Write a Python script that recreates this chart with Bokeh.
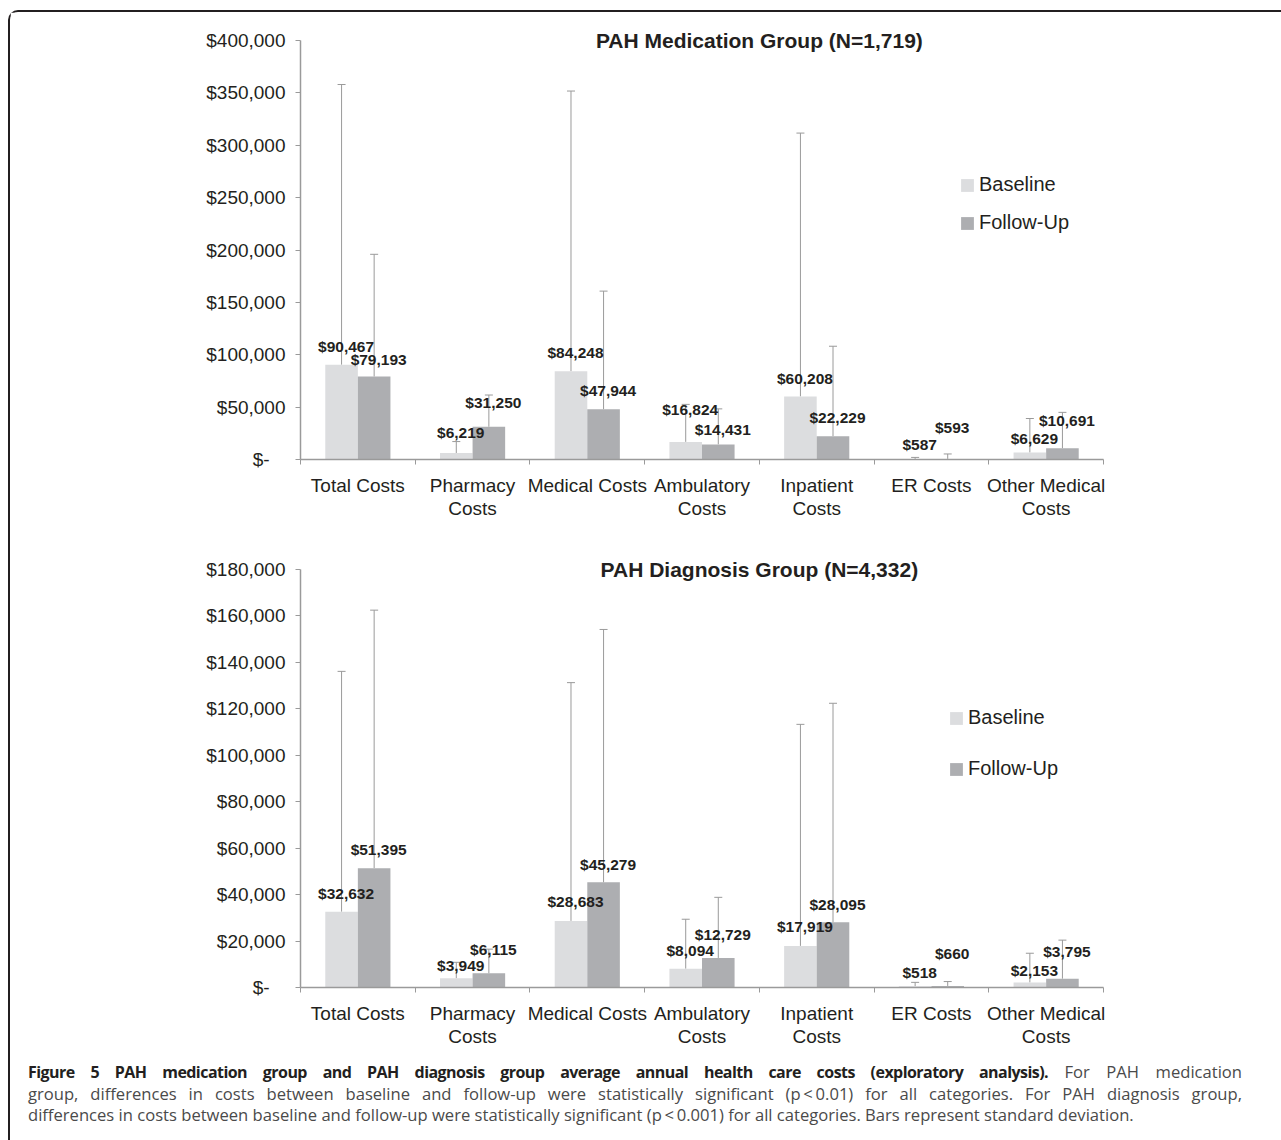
import numpy as np
from bokeh.plotting import figure
from bokeh.models import (ColumnDataSource, Range1d, FixedTicker, NumeralTickFormatter,
                          Whisker, TeeHead, LabelSet, Label, Legend, LegendItem, Div)
from bokeh.layouts import column
from bokeh.core.properties import value
from bokeh.embed import file_html
from bokeh.resources import INLINE

# ---------------- data ----------------
categories = ["Total Costs", "Pharmacy\nCosts", "Medical Costs", "Ambulatory\nCosts",
              "Inpatient\nCosts", "ER Costs", "Other Medical\nCosts"]
series_names = ["Baseline", "Follow-Up"]

med_title = "PAH Medication Group (N=1,719)"
med_baseline = [90467, 6219, 84248, 16824, 60208, 587, 6629]
med_followup = [79193, 31250, 47944, 14431, 22229, 593, 10691]
med_baseline_sd = [267500, 10900, 267500, 35800, 251400, 1400, 32500]
med_followup_sd = [116700, 30300, 112800, 33900, 85900, 4700, 34300]
med_y_ticks = [0, 50000, 100000, 150000, 200000, 250000, 300000, 350000, 400000]

dx_title = "PAH Diagnosis Group (N=4,332)"
dx_baseline = [32632, 3949, 28683, 8094, 17919, 518, 2153]
dx_followup = [51395, 6115, 45279, 12729, 28095, 660, 3795]
dx_baseline_sd = [103500, 6900, 102600, 21300, 95400, 1700, 12600]
dx_followup_sd = [111100, 10400, 108900, 26100, 94300, 1900, 16600]
dx_y_ticks = [0, 20000, 40000, 60000, 80000, 100000, 120000, 140000, 160000, 180000]

caption_bold = ("Figure 5 PAH medication group and PAH diagnosis group average annual "
                "health care costs (exploratory analysis).")
caption_lines = [
    " For PAH medication",
    "group, differences in costs between baseline and follow-up were statistically "
    "significant (p\u2009<\u20090.01) for all categories. For PAH diagnosis group,",
    "differences in costs between baseline and follow-up were statistically significant "
    "(p\u2009<\u20090.001) for all categories. Bars represent standard deviation.",
]

# ---------------- style (label offsets in screen px) ----------------
med_label_dy_base = [18, 20, 19, 32, 18, 14, 14]
med_label_dy_fu = [17, 24, 19, 15, 19, 31, 28]
dx_label_dy_base = [18, 13, 19, 18, 19, 14, 12]
dx_label_dy_fu = [19, 24, 18, 23, 18, 32, 27]

FONT = "Liberation Sans"
TXT = "#231f20"
C_BASE = "#dcdddf"
C_FU = "#adaeb1"
ERR = "#9a9a9a"
AXIS = "#9a9a9a"
BAR_W = 0.284
SHIFT = 0.142
HEAD = 20  # extra px above the top tick, room for the in-plot title


def build(title, base, fu, base_sd, fu_sd, y_ticks, frame_h, b_top, b_bottom,
          dy_base, dy_fu, leg_xy, leg_spacing):
    n = len(categories)
    idx = np.arange(n)
    y_max = y_ticks[-1]
    y_end = y_max + y_max * HEAD / frame_h
    p = figure(frame_width=803, frame_height=frame_h + HEAD, min_border_left=290,
               min_border_right=177, min_border_top=b_top - HEAD, min_border_bottom=b_bottom,
               x_range=Range1d(0, n), y_range=Range1d(0, y_end),
               output_backend="svg", toolbar_location=None, title=None)
    p.outline_line_color = None
    p.xgrid.visible = False
    p.ygrid.visible = False

    renderers = []
    for vals, sds, shift, color, dys in ((base, base_sd, -SHIFT, C_BASE, dy_base),
                                          (fu, fu_sd, SHIFT, C_FU, dy_fu)):
        v = np.array(vals)
        src = ColumnDataSource(dict(
            x=idx + 0.5 + shift, top=v, upper=v + np.array(sds),
            label=["${:,}".format(int(a)) for a in vals], dy=dys))
        r = p.vbar(x="x", top="top", bottom=0, width=BAR_W, source=src,
                   fill_color=color, line_color=None)
        renderers.append((r, src))

    for r, src in renderers:
        p.add_layout(Whisker(source=src, base="x", lower="top", upper="upper",
                             dimension="height", line_color=ERR, line_width=1,
                             upper_head=TeeHead(size=8, line_color=ERR, line_width=1),
                             lower_head=None))
    for r, src in renderers:
        p.add_layout(LabelSet(source=src, x="x", y="top", text="label",
                              x_offset=4.5, y_offset="dy",
                              text_align="center", text_baseline="middle",
                              text_font=value(FONT), text_font_style="bold",
                              text_font_size="15.5px", text_color=TXT))

    p.add_layout(Label(x=4.0, y=y_max, text=title, text_align="center",
                       text_baseline="middle", text_font=FONT,
                       text_font_style="bold", text_font_size="21px", text_color=TXT))

    legend = Legend(items=[LegendItem(label=series_names[0], renderers=[renderers[0][0]]),
                           LegendItem(label=series_names[1], renderers=[renderers[1][0]])],
                    location=leg_xy, orientation="vertical",
                    glyph_width=16, glyph_height=16, label_standoff=4,
                    spacing=leg_spacing, padding=0, margin=0,
                    border_line_color=None, background_fill_alpha=0,
                    label_text_font=FONT, label_text_font_size="20px",
                    label_text_color=TXT)
    p.add_layout(legend)

    # axes
    p.yaxis.ticker = FixedTicker(ticks=y_ticks)
    p.yaxis.bounds = (0, y_max)
    p.yaxis.formatter = NumeralTickFormatter(format="$0,0")
    p.yaxis.major_label_overrides = {0: "$-\u00a0\u00a0\u00a0"}
    p.yaxis.major_tick_out = 5
    p.yaxis.major_tick_in = 0
    p.yaxis.minor_tick_line_color = None
    p.yaxis.major_label_standoff = 10

    p.xaxis.ticker = FixedTicker(ticks=[float(i) + 0.5 for i in idx],
                                 minor_ticks=[float(i) for i in range(n + 1)])
    p.xaxis.major_label_overrides = {float(i) + 0.5: categories[i] for i in idx}
    p.xaxis.major_tick_out = 0
    p.xaxis.major_tick_in = 0
    p.xaxis.minor_tick_line_color = AXIS
    p.xaxis.minor_tick_out = 5
    p.xaxis.minor_tick_in = 0
    p.xaxis.major_label_standoff = 10
    p.xaxis.major_label_text_line_height = 1.1

    for ax in (p.xaxis[0], p.yaxis[0]):
        ax.axis_line_color = AXIS
        ax.axis_line_width = 1.5
        ax.major_label_text_font = FONT
        ax.major_label_text_font_size = "19px"
        ax.major_label_text_color = TXT
    p.yaxis.major_tick_line_color = AXIS
    p.xaxis.major_tick_line_color = None
    return p


p1 = build(med_title, med_baseline, med_followup, med_baseline_sd, med_followup_sd,
           med_y_ticks, 419, 28, 71, med_label_dy_base, med_label_dy_fu, (659, 225), 15)
p2 = build(dx_title, dx_baseline, dx_followup, dx_baseline_sd, dx_followup_sd,
           dx_y_ticks, 418, 39, 63, dx_label_dy_base, dx_label_dy_fu, (648, 207), 28)

line_style = "text-align:justify;text-align-last:justify;"
html = (
    "<div style=\"font-family:'Open Sans';font-size:16.6px;line-height:21px;"
    "color:#4a4a4a;padding:6px 13px 0 13px;width:1240px;\">"
    f"<div style=\"{line_style}\"><b style=\"color:#231f20;font-size:16px;"
    f"letter-spacing:-0.55px\">{caption_bold}</b>{caption_lines[0]}</div>"
    f"<div style=\"{line_style}\">{caption_lines[1]}</div>"
    f"<div>{caption_lines[2]}</div>"
    "</div>"
)
cap = Div(text=html, width=1270, height=80)

layout = column(p1, p2, cap, styles={
    "margin-left": "8px",
    "margin-top": "10px",
    "border-top": "2px solid #231f20",
    "border-left": "2px solid #231f20",
    "border-top-left-radius": "10px",
    "background-color": "white",
})

open("out.html", "w").write(file_html(layout, INLINE))
